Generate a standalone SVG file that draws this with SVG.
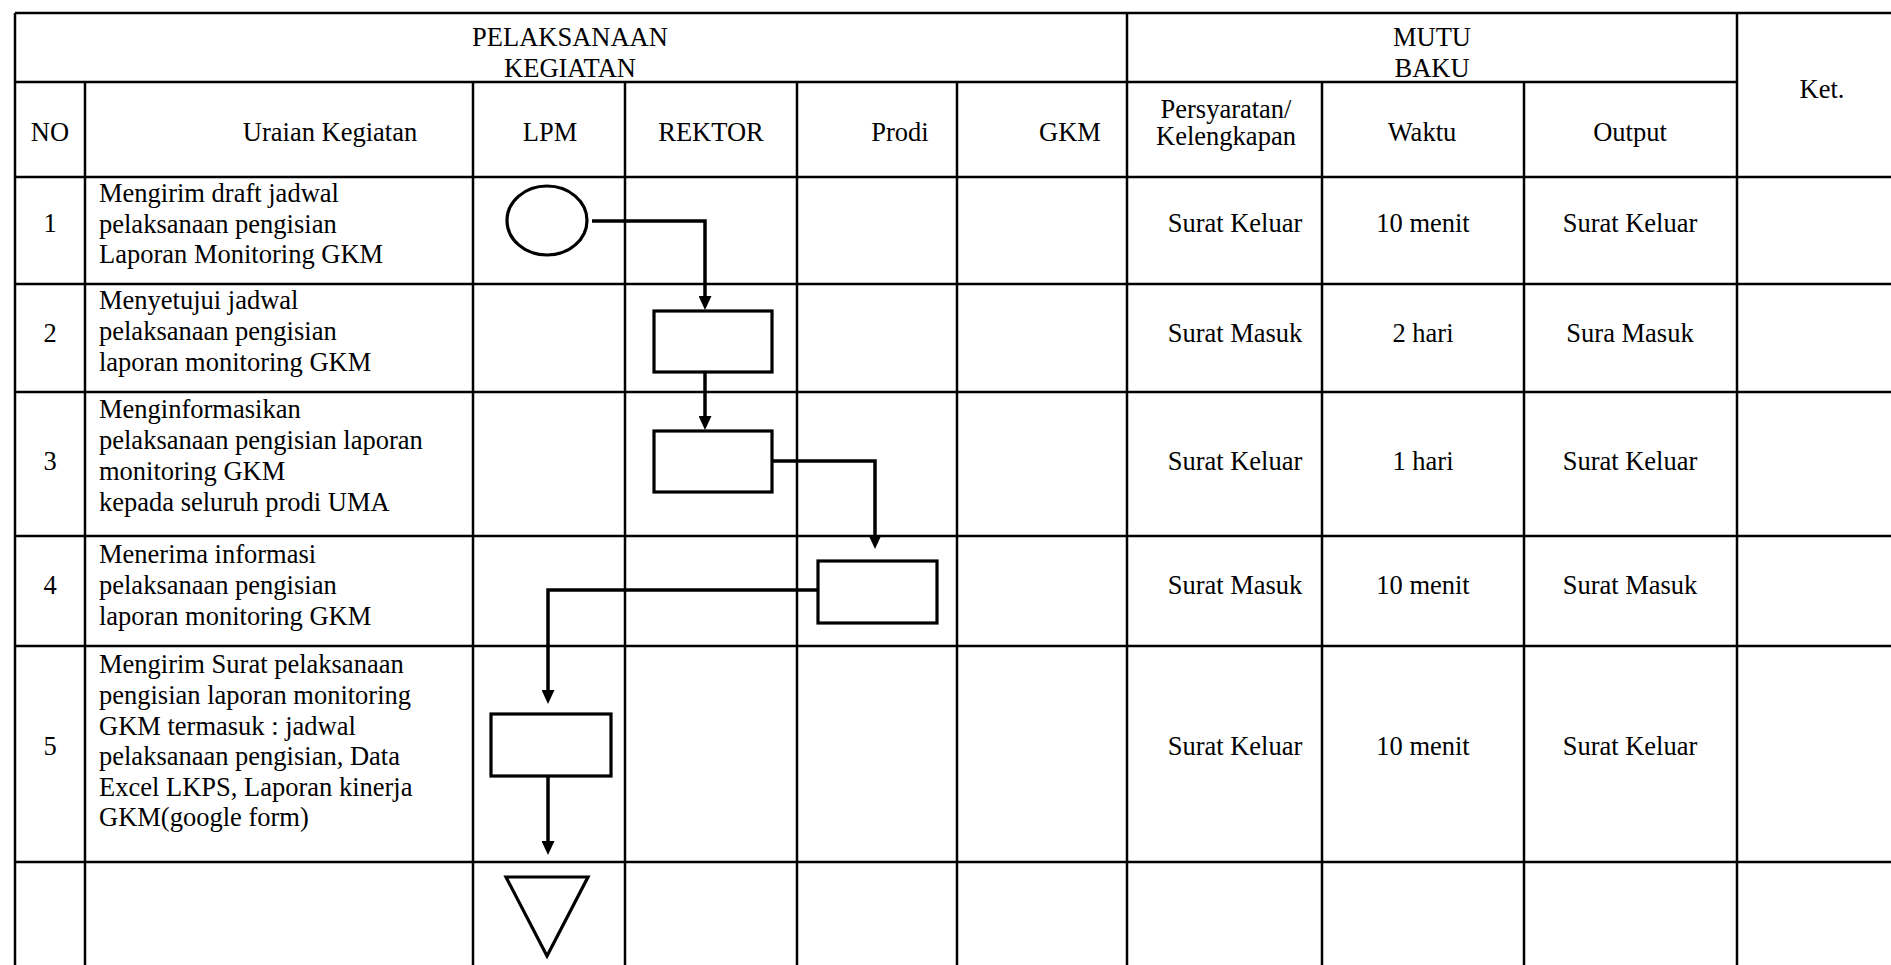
<svg xmlns="http://www.w3.org/2000/svg" width="1891" height="965" viewBox="0 0 1891 965">
<style>
.g{stroke:#000;stroke-width:2.5;fill:none}
.t{font-family:"Liberation Serif","Times New Roman",serif;font-size:26.5px;fill:#000}
.c{text-anchor:middle}
.s{fill:#fff;stroke:#000;stroke-width:3.2}
.k{fill:none;stroke:#000;stroke-width:3.5}
</style>
<defs>
<marker id="ah" viewBox="0 0 14 13" refX="6" refY="6.5" markerWidth="14" markerHeight="13" markerUnits="userSpaceOnUse" orient="auto">
<path d="M0,0 L14,6.5 L0,13 z" fill="#000"/>
</marker>
</defs>
<rect width="1891" height="965" fill="#fff"/>
<g id="table" class="g">
<line x1="15" y1="13" x2="1891" y2="13"/>
<line x1="15" y1="82" x2="1737" y2="82"/>
<line x1="15" y1="177" x2="1891" y2="177"/>
<line x1="15" y1="284" x2="1891" y2="284"/>
<line x1="15" y1="392" x2="1891" y2="392"/>
<line x1="15" y1="536" x2="1891" y2="536"/>
<line x1="15" y1="646" x2="1891" y2="646"/>
<line x1="15" y1="862" x2="1891" y2="862"/>
<line x1="15" y1="13" x2="15" y2="965"/>
<line x1="85" y1="82" x2="85" y2="965"/>
<line x1="473" y1="82" x2="473" y2="965"/>
<line x1="625" y1="82" x2="625" y2="965"/>
<line x1="797" y1="82" x2="797" y2="965"/>
<line x1="957" y1="82" x2="957" y2="965"/>
<line x1="1127" y1="13" x2="1127" y2="965"/>
<line x1="1322" y1="82" x2="1322" y2="965"/>
<line x1="1524" y1="82" x2="1524" y2="965"/>
<line x1="1737" y1="13" x2="1737" y2="965"/>
</g>
<g id="headers" class="t">
<text class="c" x="570" y="46">PELAKSANAAN</text>
<text class="c" x="570" y="76.5">KEGIATAN</text>
<text class="c" x="1432" y="46">MUTU</text>
<text class="c" x="1432" y="76.5">BAKU</text>
<text class="c" x="1822" y="98">Ket.</text>
<text class="c" x="50" y="141">NO</text>
<text class="c" x="330" y="141">Uraian Kegiatan</text>
<text class="c" x="550" y="141">LPM</text>
<text class="c" x="711" y="141">REKTOR</text>
<text class="c" x="900" y="141">Prodi</text>
<text class="c" x="1070" y="141">GKM</text>
<text class="c" x="1226" y="118">Persyaratan/</text>
<text class="c" x="1226" y="145">Kelengkapan</text>
<text class="c" x="1422" y="141">Waktu</text>
<text class="c" x="1630" y="141">Output</text>
</g>
<g id="row1" class="t">
<text class="c" x="50" y="232">1</text>
<text x="99" y="202">Mengirim draft jadwal</text>
<text x="99" y="232.5">pelaksanaan pengisian</text>
<text x="99" y="263">Laporan Monitoring GKM</text>
<text class="c" x="1235" y="232">Surat Keluar</text>
<text class="c" x="1423" y="232">10 menit</text>
<text class="c" x="1630" y="232">Surat Keluar</text>
</g>
<g id="row2" class="t">
<text class="c" x="50" y="342">2</text>
<text x="99" y="308.5">Menyetujui jadwal</text>
<text x="99" y="339.5">pelaksanaan pengisian</text>
<text x="99" y="370.5">laporan monitoring GKM</text>
<text class="c" x="1235" y="342">Surat Masuk</text>
<text class="c" x="1423" y="342">2 hari</text>
<text class="c" x="1630" y="342">Sura Masuk</text>
</g>
<g id="row3" class="t">
<text class="c" x="50" y="470">3</text>
<text x="99" y="418">Menginformasikan</text>
<text x="99" y="449">pelaksanaan pengisian laporan</text>
<text x="99" y="480">monitoring GKM</text>
<text x="99" y="511">kepada seluruh prodi UMA</text>
<text class="c" x="1235" y="470">Surat Keluar</text>
<text class="c" x="1423" y="470">1 hari</text>
<text class="c" x="1630" y="470">Surat Keluar</text>
</g>
<g id="row4" class="t">
<text class="c" x="50" y="594">4</text>
<text x="99" y="563">Menerima informasi</text>
<text x="99" y="594">pelaksanaan pengisian</text>
<text x="99" y="625">laporan monitoring GKM</text>
<text class="c" x="1235" y="594">Surat Masuk</text>
<text class="c" x="1423" y="594">10 menit</text>
<text class="c" x="1630" y="594">Surat Masuk</text>
</g>
<g id="row5" class="t">
<text class="c" x="50" y="755">5</text>
<text x="99" y="673">Mengirim Surat pelaksanaan</text>
<text x="99" y="704">pengisian laporan monitoring</text>
<text x="99" y="734.5">GKM termasuk : jadwal</text>
<text x="99" y="765">pelaksanaan pengisian, Data</text>
<text x="99" y="795.5">Excel LKPS, Laporan kinerja</text>
<text x="99" y="826">GKM(google form)</text>
<text class="c" x="1235" y="755">Surat Keluar</text>
<text class="c" x="1423" y="755">10 menit</text>
<text class="c" x="1630" y="755">Surat Keluar</text>
</g>
<g id="connectors" class="k">
<path d="M592,221 H705 V302" marker-end="url(#ah)"/>
<path d="M705,369 V422" marker-end="url(#ah)"/>
<path d="M772,461 H875 V541" marker-end="url(#ah)"/>
<path d="M818,590 H548 V696" marker-end="url(#ah)"/>
<path d="M548,774 V847" marker-end="url(#ah)"/>
</g>
<g id="start"><ellipse class="s" cx="547" cy="220.5" rx="40" ry="34.5"/></g>
<g id="step2"><rect class="s" x="654" y="311" width="118" height="61"/></g>
<g id="step3"><rect class="s" x="654" y="431" width="118" height="61"/></g>
<g id="step4"><rect class="s" x="818" y="561" width="119" height="62"/></g>
<g id="step5"><rect class="s" x="491" y="714" width="120" height="62"/></g>
<g id="end"><polygon class="s" points="506,877 588,877 547,956"/></g>
</svg>
